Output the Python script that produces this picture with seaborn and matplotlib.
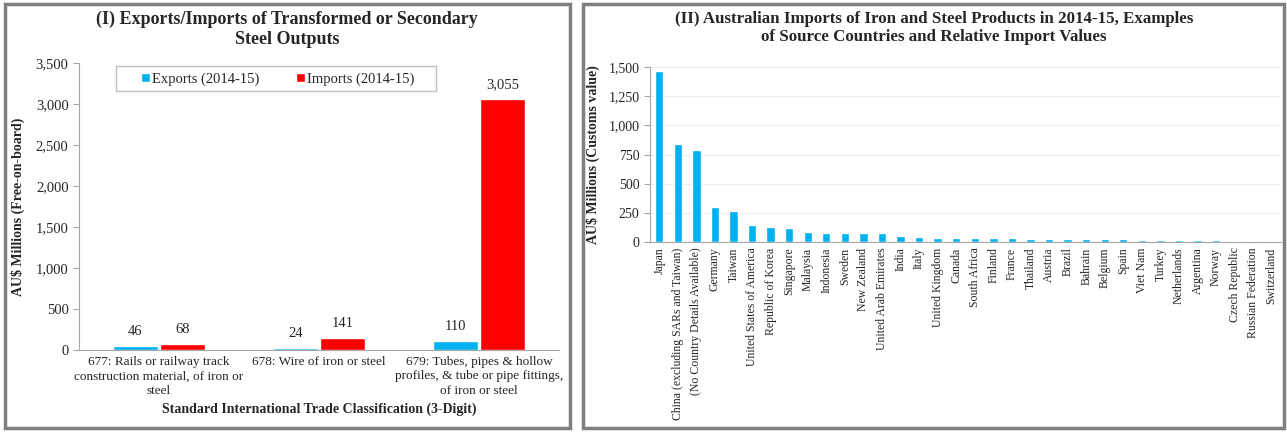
import pandas as pd
import numpy as np
import matplotlib
matplotlib.use("Agg")
import matplotlib.pyplot as plt
import seaborn as sns
from matplotlib.patches import Rectangle
from matplotlib.ticker import FuncFormatter, FixedLocator

# --- data ---
sitc_codes = ["677: Rails or railway track\nconstruction material, of iron or\nsteel",
              "678: Wire of iron or steel",
              "679: Tubes, pipes & hollow\nprofiles, & tube or pipe fittings,\nof iron or steel"]
exports_1415 = [46, 24, 110]
imports_1415 = [68, 141, 3055]
series_names = ["Exports (2014-15)", "Imports (2014-15)"]

countries = ["Japan", "China (excluding SARs and Taiwan)", "(No Country Details Available)",
             "Germany", "Taiwan", "United States of America", "Republic of Korea", "Singapore",
             "Malaysia", "Indonesia", "Sweden", "New Zealand", "United Arab Emirates", "India",
             "Italy", "United Kingdom", "Canada", "South Africa", "Finland", "France", "Thailand",
             "Austria", "Brazil", "Bahrain", "Belgium", "Spain", "Viet Nam", "Turkey",
             "Netherlands", "Argentina", "Norway", "Czech Republic", "Russian Federation",
             "Switzerland"]
import_values = [1465, 840, 785, 300, 270, 145, 125, 120, 90, 80, 75, 75, 75, 55,
                 42, 36, 36, 35, 32, 32, 28, 27, 26, 26, 25, 22, 18, 18, 17, 16, 15, 12, 12, 10]

BLUE = "#00B0F0"
RED = "#FF0000"
AXIS_GREY = "#A6A6A6"

sns.set_style("white")
plt.rcParams['font.family'] = ['Liberation Serif', 'DejaVu Serif']
plt.rcParams['axes.edgecolor'] = AXIS_GREY

W, H = 1287, 432
fig = plt.figure(figsize=(W / 100, H / 100), dpi=100)


def px_box(x0, y0, x1, y1):
    """pixel box (top-left origin) -> figure fraction [l, b, w, h]"""
    return [x0 / W, 1 - y1 / H, (x1 - x0) / W, (y1 - y0) / H]


# panel frames
for (x0, y0, x1, y1) in [(5, 4, 570, 428), (583, 4, 1284, 428)]:
    l, b, w, h = px_box(x0, y0, x1, y1)
    fig.patches.append(Rectangle((l, b), w, h, transform=fig.transFigure,
                                 fill=False, edgecolor="#7F7F7F", linewidth=2.5, zorder=0))

thousands = FuncFormatter(lambda v, p: f"{v:,.0f}")

# ---------------- panel I ----------------
ax1 = fig.add_axes(px_box(79, 63, 559, 350))
df1 = pd.DataFrame({
    "code": sitc_codes * 2,
    "series": [series_names[0]] * 3 + [series_names[1]] * 3,
    "value": exports_1415 + imports_1415,
})
sns.barplot(data=df1, x="code", y="value", hue="series", palette=[BLUE, RED],
            width=0.59, gap=0.04, ax=ax1, saturation=1)
for cont in ax1.containers:
    ax1.bar_label(cont, fmt="{:,.0f}", padding=6, fontsize=10.5, color="#262626")
ax1.set_ylim(0, 3500)
ax1.set_yticks(np.arange(0, 3501, 500))
ax1.yaxis.set_major_formatter(thousands)
ax1.set_xlim(-0.5, 2.5)
ax1.xaxis.set_minor_locator(FixedLocator([-0.5, 0.5, 1.5, 2.5]))
ax1.tick_params(axis="x", which="major", length=0, labelsize=9.5, pad=4)
ax1.tick_params(axis="x", which="minor", length=4, color=AXIS_GREY)
ax1.tick_params(axis="y", length=4, color=AXIS_GREY, labelsize=10.5, left=True)
for t in ax1.get_xticklabels():
    t.set_linespacing(1.3)
ax1.set_ylabel("AU$ Millions (Free-on-board)", fontsize=10, fontweight="bold", labelpad=8)
ax1.set_xlabel("Standard International Trade Classification (3-Digit)",
               fontsize=10, fontweight="bold", labelpad=4)
sns.despine(ax=ax1)

# legend: entries centred inside a separate grey box
l, b, w, h = px_box(116, 66, 436, 91)
ax1.add_patch(Rectangle((l, b), w, h, transform=fig.transFigure, clip_on=False,
                        facecolor="white", edgecolor="#BFBFBF", linewidth=1, zorder=4))
leg = ax1.legend(loc="center", bbox_to_anchor=(278 / W, 1 - 79 / H),
                 bbox_transform=fig.transFigure, ncol=2, frameon=False,
                 fontsize=10.5, handlelength=0.6, handleheight=0.6, handletextpad=0.15,
                 columnspacing=2.5, borderaxespad=0, title=None)
leg.set_zorder(6)
fig.text(287 / W, 1 - 11 / H, "(I) Exports/Imports of Transformed or Secondary\nSteel Outputs",
         ha="center", va="top", fontsize=13, fontweight="bold", linespacing=1.2)

# ---------------- panel II ----------------
ax2 = fig.add_axes(px_box(650, 67, 1281, 242))
df2 = pd.DataFrame({"country": countries, "value": import_values})
sns.barplot(data=df2, x="country", y="value", color=BLUE, width=0.45, ax=ax2,
            saturation=1, zorder=3)
ax2.set_ylim(0, 1500)
ax2.set_yticks(np.arange(0, 1501, 250))
ax2.yaxis.set_major_formatter(thousands)
ax2.yaxis.grid(True, color="#EDEDED", linewidth=0.8, zorder=0)
ax2.set_axisbelow(True)
ax2.set_xlim(-0.5, len(countries) - 0.5)
ax2.xaxis.set_minor_locator(FixedLocator(np.arange(-0.5, len(countries), 1.0)))
ax2.tick_params(axis="x", which="major", length=0, labelsize=8.5, rotation=90, pad=4)
ax2.tick_params(axis="x", which="minor", length=4, color=AXIS_GREY)
ax2.tick_params(axis="y", length=4, color=AXIS_GREY, labelsize=10, left=True)
ax2.set_xlabel("")
ax2.set_ylabel("AU$ Millions (Customs value)", fontsize=10, fontweight="bold", labelpad=6)
sns.despine(ax=ax2)
fig.text(934 / W, 1 - 11 / H,
         "(II) Australian Imports of Iron and Steel Products in 2014-15, Examples\n"
         "of Source Countries and Relative Import Values",
         ha="center", va="top", fontsize=12.2, fontweight="bold", linespacing=1.2)

fig.savefig("out.png", dpi=100, facecolor="white")
